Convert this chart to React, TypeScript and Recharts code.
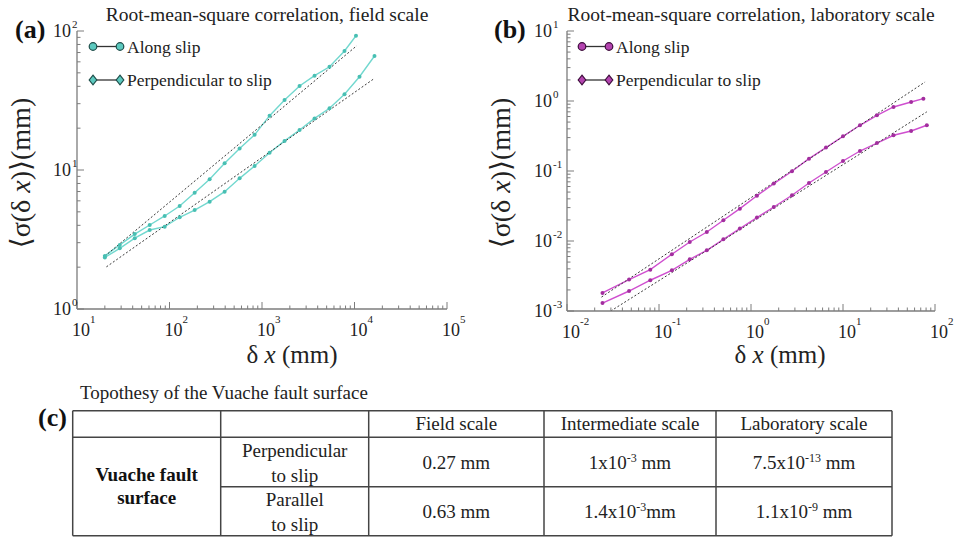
import React from 'react';
import { LineChart, Line, XAxis, YAxis } from 'recharts';

const FONT = '"Liberation Serif", "DejaVu Serif", "Times New Roman", Times, serif';

// ---------- Panel (a): field scale ----------
const fieldAlongX = [20.0, 29.0, 42.1, 61.1, 88.7, 128.8, 187.1, 271.6, 394.5, 572.8, 831.8, 1208, 1754, 2547, 3698, 5370, 7798, 10375];
const fieldAlongY = [2.41, 2.89, 3.46, 4.02, 4.67, 5.51, 6.87, 8.57, 11.2, 14.3, 17.9, 24.6, 31.9, 40.2, 47.7, 55.3, 71.8, 92.5];
const fieldPerpX = [20.0, 29.0, 42.1, 61.1, 88.7, 128.8, 187.1, 271.6, 394.5, 572.8, 831.8, 1208, 1754, 2547, 3698, 5370, 7798, 11324, 16444];
const fieldPerpY = [2.35, 2.73, 3.23, 3.70, 3.91, 4.57, 5.15, 5.92, 6.98, 8.71, 10.7, 13.3, 16.2, 19.4, 23.5, 27.8, 35.1, 46.9, 66.1];
const fieldAlongFitX = [20.0, 10570];
const fieldAlongFitY = [2.40, 78.3];
const fieldPerpFitX = [20.8, 15960];
const fieldPerpFitY = [2.01, 45.0];

// ---------- Panel (b): laboratory scale ----------
const labAlongX = [0.0243, 0.0473, 0.0804, 0.138, 0.216, 0.331, 0.501, 0.757, 1.16, 1.77, 2.79, 4.27, 6.53, 10.0, 15.3, 23.4, 35.4, 55.0, 74.8];
const labAlongY = [0.00181, 0.00281, 0.0039, 0.00646, 0.00968, 0.01345, 0.0198, 0.029, 0.0443, 0.0661, 0.0991, 0.15, 0.216, 0.313, 0.45, 0.625, 0.821, 0.968, 1.08];
const labPerpX = [0.0243, 0.0473, 0.0804, 0.138, 0.216, 0.331, 0.501, 0.757, 1.16, 1.77, 2.79, 4.27, 6.53, 10.0, 15.3, 23.4, 35.4, 55.0, 81.5];
const labPerpY = [0.0013, 0.00193, 0.00275, 0.00381, 0.00548, 0.00736, 0.01057, 0.01503, 0.0216, 0.0306, 0.045, 0.0674, 0.0968, 0.139, 0.193, 0.251, 0.324, 0.373, 0.45];
const labAlongFitX = [0.0237, 78.0];
const labAlongFitY = [0.00158, 1.87];
const labPerpFitX = [0.0299, 81.5];
const labPerpFitY = [0.001, 0.7];

// ---------- Axis exponents ----------
const fieldXExp = [1, 5];
const fieldYExp = [0, 2];
const labXExp = [-2, 2];
const labYExp = [-3, 1];

// ---------- Table (c) ----------
const tableTitle = 'Topothesy of the Vuache fault surface';
const tableHeaders = ['Field scale', 'Intermediate scale', 'Laboratory scale'];
const rowLabels = [['Perpendicular', 'to slip'], ['Parallel', 'to slip']];
// [mantissa, exponent, suffix]
const perpValues: [string, string, string][] = [['0.27 mm', '', ''], ['1x10', '-3', ' mm'], ['7.5x10', '-13', ' mm']];
const paraValues: [string, string, string][] = [['0.63 mm', '', ''], ['1.4x10', '-3', 'mm'], ['1.1x10', '-9', ' mm']];

const zip = (xs: number[], ys: number[]) => xs.map((x, i) => ({ x, y: ys[i] }));

function logTicks(e0: number, e1: number) {
  const t: number[] = [];
  for (let e = e0; e < e1; e++) for (let m = 1; m < 10; m++) t.push(parseFloat((m * Math.pow(10, e)).toPrecision(6)));
  t.push(Math.pow(10, e1));
  return t;
}

const TICK_COLOR = '#7c7c7c';
const FRAME = { stroke: '#7c7c7c', strokeWidth: 1.3 };

function isMajor(v: number) {
  const l = Math.log10(v);
  return Math.abs(l - Math.round(l)) < 1e-6;
}

function makeTick(side: 'bottom' | 'top' | 'left' | 'right', expW = 5) {
  return function Tick(props: any) {
    const { x, y, payload } = props;
    const v = payload.value;
    const major = isMajor(v);
    const len = major ? 7 : 3.5;
    const exp = String(Math.round(Math.log10(v)));
    let x2 = x;
    let y2 = y;
    if (side === 'bottom') y2 = y - len;
    if (side === 'top') y2 = y + len;
    if (side === 'left') x2 = x + len;
    if (side === 'right') x2 = x - len;
    return (
      <g>
        <line x1={x} y1={y} x2={x2} y2={y2} stroke={TICK_COLOR} strokeWidth={1} />
        {major && side === 'bottom' && (
          <g>
            <text x={x + 4} y={y + 27} fontSize={18} textAnchor="middle" fontFamily={FONT} fill="#222">10</text>
            <text x={x + 13} y={y + 14} fontSize={11} fontFamily={FONT} fill="#222">{exp}</text>
          </g>
        )}
        {major && side === 'left' && (
          <g>
            <text x={x - expW - 1} y={y + 6} fontSize={18} textAnchor="end" fontFamily={FONT} fill="#222">10</text>
            <text x={x - expW} y={y - 3} fontSize={11} fontFamily={FONT} fill="#222">{exp}</text>
          </g>
        )}
      </g>
    );
  };
}

const TEAL_LINE = '#72d8cf';
const TEAL_DOT = '#48bfb3';
const MAG_LINE = '#cf4fcf';
const MAG_DOT = '#a22e9e';
const FIT = '#3a3a3a';

function Panel(props: {
  width: number;
  height: number;
  margin: any;
  yWidth: number;
  xHeight: number;
  xExp: number[];
  yExp: number[];
  yExpW: number;
  series: { data: { x: number; y: number }[]; color: string; dot: string }[];
  fits: { x: number; y: number }[][];
}) {
  const xt = logTicks(props.xExp[0], props.xExp[1]);
  const yt = logTicks(props.yExp[0], props.yExp[1]);
  const xd = [Math.pow(10, props.xExp[0]), Math.pow(10, props.xExp[1])];
  const yd = [Math.pow(10, props.yExp[0]), Math.pow(10, props.yExp[1])];
  return (
    <LineChart width={props.width} height={props.height} margin={props.margin}>
      <XAxis xAxisId="b" dataKey="x" type="number" scale="log" domain={xd} ticks={xt} interval={0}
        tickSize={0} tickMargin={0} tickLine={false} axisLine={FRAME} height={props.xHeight}
        tick={makeTick('bottom')} allowDataOverflow />
      <XAxis xAxisId="t" orientation="top" dataKey="x" type="number" scale="log" domain={xd} ticks={xt} interval={0}
        tickSize={0} tickMargin={0} tickLine={false} axisLine={FRAME} height={0}
        tick={makeTick('top')} allowDataOverflow />
      <YAxis yAxisId="l" dataKey="y" type="number" scale="log" domain={yd} ticks={yt} interval={0}
        tickSize={0} tickMargin={0} tickLine={false} axisLine={FRAME} width={props.yWidth}
        tick={makeTick('left', props.yExpW)} allowDataOverflow />
      <YAxis yAxisId="r" orientation="right" dataKey="y" type="number" scale="log" domain={yd} ticks={yt} interval={0}
        tickSize={0} tickMargin={0} tickLine={false} axisLine={FRAME} width={0}
        tick={makeTick('right')} allowDataOverflow />
      {props.series.map((s, i) => (
        <Line key={'s' + i} xAxisId="b" yAxisId="l" data={s.data} dataKey="y" type="linear"
          stroke={s.color} strokeWidth={1.4}
          dot={{ r: 2, fill: s.dot, stroke: s.dot, strokeWidth: 0 }}
          isAnimationActive={false} />
      ))}
      {props.fits.map((f, i) => (
        <Line key={'f' + i} xAxisId="b" yAxisId="l" data={f} dataKey="y" type="linear"
          stroke={FIT} strokeWidth={1} strokeDasharray="2 2" dot={false}
          isAnimationActive={false} />
      ))}
    </LineChart>
  );
}

function LegendEntry(props: { x: number; y: number; fill: string; stroke: string; diamond?: boolean; label: string }) {
  const { x, y, fill, stroke, diamond, label } = props;
  const mk = (cx: number) =>
    diamond ? (
      <path d={`M${cx},${y - 4.8} L${cx + 3.8},${y} L${cx},${y + 4.8} L${cx - 3.8},${y} Z`} fill={fill} stroke={stroke} strokeWidth={1.2} />
    ) : (
      <circle cx={cx} cy={y} r={3.8} fill={fill} stroke={stroke} strokeWidth={1.2} />
    );
  return (
    <g>
      <line x1={x} y1={y} x2={x + 27} y2={y} stroke="#333" strokeWidth={1.3} />
      {mk(x)}
      {mk(x + 27)}
      <text x={x + 34} y={y + 6} fontSize={17.5} fontFamily={FONT} fill="#222">{label}</text>
    </g>
  );
}

function YLabel(props: { x: number; y: number }) {
  return (
    <text transform={`translate(${props.x},${props.y}) rotate(-90)`} textAnchor="middle" fontSize={28}
      fontFamily={FONT} fill="#222">
      ⟨σ(δ <tspan fontStyle="italic">x</tspan>)⟩(mm)
    </text>
  );
}

function XLabel(props: { x: number; y: number }) {
  return (
    <text x={props.x} y={props.y} textAnchor="middle" fontSize={25} fontFamily={FONT} fill="#222">
      δ <tspan fontStyle="italic">x</tspan> (mm)
    </text>
  );
}

function ValueText(props: { x: number; y: number; v: [string, string, string] }) {
  const [m, e, s] = props.v;
  return (
    <text x={props.x} y={props.y} textAnchor="middle" fontSize={19} fontFamily={FONT} fill="#222">
      {m}
      {e && <tspan dy={-7} fontSize={12}>{e}</tspan>}
      {e && <tspan dy={7}>{s}</tspan>}
    </text>
  );
}

export default function App() {
  const colX = [72.7, 220.7, 368.7, 544, 716, 892];
  const rowY = [410.7, 437.3, 486.7, 535.7];
  const lineStyle = { stroke: '#444', strokeWidth: 1.5 };
  const cx = (i: number) => (colX[i] + colX[i + 1]) / 2;
  return (
    <div style={{ position: 'absolute', left: 0, top: 0, width: 959, height: 539, background: '#fff', overflow: 'hidden' }}>
      <div style={{ position: 'absolute', left: 0, top: 0 }}>
        <Panel width={480} height={370} margin={{ top: 31, right: 33, left: 0, bottom: 0 }} yWidth={77} xHeight={61}
          xExp={fieldXExp} yExp={fieldYExp} yExpW={5}
          series={[
            { data: zip(fieldAlongX, fieldAlongY), color: TEAL_LINE, dot: TEAL_DOT },
            { data: zip(fieldPerpX, fieldPerpY), color: TEAL_LINE, dot: TEAL_DOT },
          ]}
          fits={[zip(fieldAlongFitX, fieldAlongFitY), zip(fieldPerpFitX, fieldPerpFitY)]} />
      </div>
      <div style={{ position: 'absolute', left: 480, top: 0 }}>
        <Panel width={479} height={370} margin={{ top: 31, right: 24, left: 0, bottom: 0 }} yWidth={87} xHeight={59}
          xExp={labXExp} yExp={labYExp} yExpW={14}
          series={[
            { data: zip(labAlongX, labAlongY), color: MAG_LINE, dot: MAG_DOT },
            { data: zip(labPerpX, labPerpY), color: MAG_LINE, dot: MAG_DOT },
          ]}
          fits={[zip(labAlongFitX, labAlongFitY), zip(labPerpFitX, labPerpFitY)]} />
      </div>
      <svg width={959} height={539} style={{ position: 'absolute', left: 0, top: 0, pointerEvents: 'none' }}>
        {/* titles */}
        <text x={267} y={21} textAnchor="middle" fontSize={19.5} fontFamily={FONT} fill="#222">Root-mean-square correlation, field scale</text>
        <text x={751} y={21} textAnchor="middle" fontSize={19.5} fontFamily={FONT} fill="#222">Root-mean-square correlation, laboratory scale</text>
        <text x={15} y={38} fontSize={26} fontWeight="bold" fontFamily={FONT} fill="#111">(a)</text>
        <text x={494} y={38} fontSize={26} fontWeight="bold" fontFamily={FONT} fill="#111">(b)</text>
        {/* legends */}
        <LegendEntry x={93} y={46.5} fill="#5cc9bf" stroke="#1d4d49" label="Along slip" />
        <LegendEntry x={93} y={80} fill="#5cc9bf" stroke="#1d4d49" diamond label="Perpendicular to slip" />
        <LegendEntry x={582} y={46.5} fill="#b444b0" stroke="#3d0c3b" label="Along slip" />
        <LegendEntry x={582} y={80} fill="#b444b0" stroke="#3d0c3b" diamond label="Perpendicular to slip" />
        {/* axis labels */}
        <XLabel x={292} y={363} />
        <XLabel x={780} y={363} />
        <YLabel x={30} y={173} />
        <YLabel x={510} y={173} />
        {/* table (c) */}
        <text x={80} y={399} fontSize={19} fontFamily={FONT} fill="#222">{tableTitle}</text>
        <text x={38} y={426} fontSize={26} fontWeight="bold" fontFamily={FONT} fill="#111">(c)</text>
        <line x1={colX[0]} y1={rowY[0]} x2={colX[5]} y2={rowY[0]} {...lineStyle} />
        <line x1={colX[0]} y1={rowY[1]} x2={colX[5]} y2={rowY[1]} {...lineStyle} />
        <line x1={colX[1]} y1={rowY[2]} x2={colX[5]} y2={rowY[2]} {...lineStyle} />
        <line x1={colX[0]} y1={rowY[3]} x2={colX[5]} y2={rowY[3]} {...lineStyle} />
        {colX.map((x, i) => (
          <line key={'v' + i} x1={x} y1={rowY[0]} x2={x} y2={rowY[3]} {...lineStyle} />
        ))}
        {tableHeaders.map((h, i) => (
          <text key={'h' + i} x={cx(i + 2)} y={430} textAnchor="middle" fontSize={19} fontFamily={FONT} fill="#222">{h}</text>
        ))}
        <text x={cx(0)} y={481} textAnchor="middle" fontSize={19} fontWeight="bold" fontFamily={FONT} fill="#111">Vuache fault</text>
        <text x={cx(0)} y={504} textAnchor="middle" fontSize={19} fontWeight="bold" fontFamily={FONT} fill="#111">surface</text>
        <text x={cx(1)} y={457} textAnchor="middle" fontSize={19} fontFamily={FONT} fill="#222">{rowLabels[0][0]}</text>
        <text x={cx(1)} y={482} textAnchor="middle" fontSize={19} fontFamily={FONT} fill="#222">{rowLabels[0][1]}</text>
        <text x={cx(1)} y={506} textAnchor="middle" fontSize={19} fontFamily={FONT} fill="#222">{rowLabels[1][0]}</text>
        <text x={cx(1)} y={531} textAnchor="middle" fontSize={19} fontFamily={FONT} fill="#222">{rowLabels[1][1]}</text>
        {perpValues.map((v, i) => (
          <ValueText key={'p' + i} x={cx(i + 2)} y={469} v={v} />
        ))}
        {paraValues.map((v, i) => (
          <ValueText key={'q' + i} x={cx(i + 2)} y={518} v={v} />
        ))}
      </svg>
    </div>
  );
}
